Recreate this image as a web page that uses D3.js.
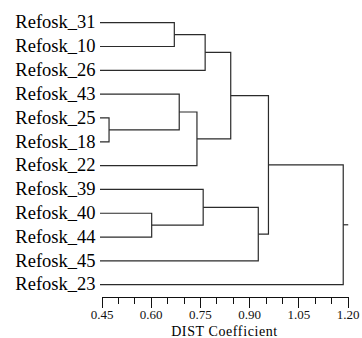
<!DOCTYPE html>
<html>
<head>
<meta charset="utf-8">
<script src="https://cdn.jsdelivr.net/npm/d3@7"></script>
</head>
<body style="margin:0">
<script>
// leaves, top to bottom
var leaves = ["Refosk_31", "Refosk_10", "Refosk_26", "Refosk_43", "Refosk_25", "Refosk_18",
              "Refosk_22", "Refosk_39", "Refosk_40", "Refosk_44", "Refosk_45", "Refosk_23"];
// merges: node ids 0..11 are leaves, new clusters get 12, 13, ...
var mergeA = [0, 12, 4, 3, 15, 13, 8, 7, 19, 17, 21];
var mergeB = [1, 2, 5, 14, 6, 16, 9, 18, 10, 20, 11];
var mergeDist = [0.672, 0.766, 0.473, 0.687, 0.741, 0.844, 0.603, 0.760, 0.928, 0.959, 1.187];
var majorTicks = [0.45, 0.60, 0.75, 0.90, 1.05, 1.20];
var minorTicks = d3.range(0, 16).map(function(i) { return 0.45 + i * 0.05; });
var axisTitle = "DIST Coefficient";
var leafDist = 0.45;

var FONT = "Liberation Serif";
var svg = d3.select("body").append("svg")
  .attr("width", 362).attr("height", 338)
  .attr("font-family", FONT);

var x = d3.scaleLinear().domain([0.45, 1.20]).range([101.5, 347.5]);
var y = d3.scalePoint().domain(leaves).range([22.7, 284.7]);

// leaf labels first
svg.selectAll("text.leaf")
  .data(leaves)
  .enter().append("text")
  .attr("class", "leaf")
  .attr("x", 95.5)
  .attr("y", function(d) { return y(d); })
  .attr("dy", "0.31em")
  .attr("text-anchor", "end")
  .attr("font-family", FONT)
  .style("font-family", FONT)
  .style("font-size", "18.5px")
  .text(function(d) { return d; });

svg.append("text")
  .attr("x", (x(0.45) + x(1.20)) / 2)
  .attr("y", 336)
  .attr("text-anchor", "middle")
  .attr("font-family", FONT)
  .style("font-family", FONT)
  .style("font-size", "14px")
  .style("letter-spacing", "0.6px")
  .text(axisTitle);

// node positions
var nodeX = [], nodeY = [];
leaves.forEach(function(l, i) { nodeX[i] = x(leafDist) - 1.5; nodeY[i] = y(l); });
mergeDist.forEach(function(d, i) {
  var id = leaves.length + i, a = mergeA[i], b = mergeB[i];
  nodeX[id] = x(d);
  nodeY[id] = (nodeY[a] + nodeY[b]) / 2;
});

svg.selectAll("path.link")
  .data(mergeDist)
  .enter().append("path")
  .attr("class", "link")
  .attr("fill", "none")
  .attr("stroke", "#2b2b2b")
  .attr("stroke-width", 1.2)
  .attr("d", function(d, i) {
    var a = mergeA[i], b = mergeB[i], xm = x(d);
    return "M" + nodeX[a] + "," + nodeY[a] + "H" + xm + "V" + nodeY[b] + "H" + nodeX[b];
  });

// root stub
var root = leaves.length + mergeDist.length - 1;
svg.append("path")
  .attr("fill", "none").attr("stroke", "#2b2b2b").attr("stroke-width", 1.2)
  .attr("d", "M" + nodeX[root] + "," + nodeY[root] + "h5");

// axis
var axisY = 297;
var minor = svg.append("g")
  .attr("transform", "translate(0," + axisY + ")")
  .call(d3.axisBottom(x).tickValues(minorTicks).tickSize(7).tickSizeOuter(0).tickFormat(""));
minor.attr("font-family", FONT);
minor.selectAll("text").remove();
var ax = svg.append("g")
  .attr("transform", "translate(0," + axisY + ")")
  .call(d3.axisBottom(x).tickValues(majorTicks).tickSize(11).tickSizeOuter(0).tickPadding(2).tickFormat(d3.format(".2f")));
ax.attr("font-family", FONT).attr("font-size", 13);
ax.select(".domain").remove();
ax.selectAll("text")
  .attr("font-family", FONT)
  .style("font-family", FONT)
  .style("font-size", "13px")
  .attr("fill", "#111");
svg.selectAll("line, .domain").attr("stroke", "#111").style("shape-rendering", "crispEdges");
</script>
</body>
</html>
